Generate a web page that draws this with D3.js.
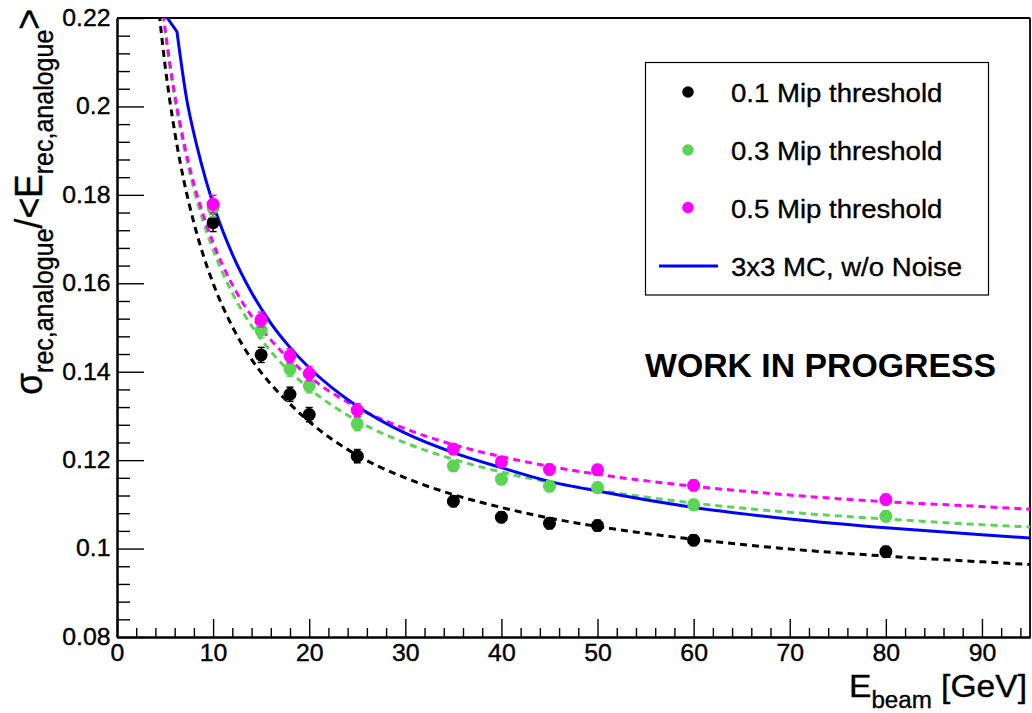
<!DOCTYPE html>
<html>
<head>
<meta charset="utf-8">
<script src="https://cdn.jsdelivr.net/npm/d3@7"></script>
<style>
  html, body { margin: 0; padding: 0; background: #fff; }
  svg { display: block; }
  text { font-family: "Liberation Sans", Arial, Helvetica, sans-serif; fill: #000; stroke: #000; stroke-width: 0.35px; }
  text.bold { stroke-width: 0; }
  .ticklab text { font-size: 23px; }
</style>
</head>
<body>
<script>
// Beam energies of the measured runs [GeV]
const energies = [10, 15, 18, 20, 25, 35, 40, 45, 50, 60, 80];

// Relative resolution sigma/<E> for the three MIP thresholds
const mip01 = [0.1737, 0.1438, 0.1349, 0.1303, 0.1209, 0.1107, 0.1071, 0.1057, 0.1052, 0.1019, 0.0993];
const mip03 = [0.1770, 0.1494, 0.1406, 0.1368, 0.1282, 0.1187, 0.1157, 0.1141, 0.1138, 0.1099, 0.1073];
const mip05 = [0.1779, 0.1518, 0.1436, 0.1396, 0.1313, 0.1225, 0.1196, 0.1179, 0.1178, 0.1143, 0.1111];
// Statistical uncertainties (same for the three thresholds)
const errors = [0.0020, 0.0017, 0.0016, 0.0016, 0.0015, 0.0012, 0.0012, 0.0012, 0.0012, 0.0012, 0.0012];

// Fitted resolution curves (dashed), sampled along the energy axis
const fitE  = [4.4, 5, 5.5, 6, 7, 8, 9, 10, 12, 14, 16, 18, 20, 25, 30, 35, 40, 45, 50, 60, 70, 80, 90, 95];
const fit01 = [0.2209, 0.2093, 0.2013, 0.1943, 0.1828, 0.1737, 0.1662, 0.1600, 0.1502, 0.1428, 0.1372, 0.1327, 0.1287, 0.1211, 0.1160, 0.1122, 0.1093, 0.1069, 0.1050, 0.1021, 0.0999, 0.0983, 0.0970, 0.0964];
const fit03 = [0.2289, 0.2173, 0.2091, 0.2021, 0.1905, 0.1813, 0.1738, 0.1676, 0.1578, 0.1504, 0.1446, 0.1400, 0.1362, 0.1289, 0.1239, 0.1202, 0.1173, 0.1150, 0.1132, 0.1103, 0.1082, 0.1067, 0.1054, 0.1049];
const fit05 = [0.2291, 0.2177, 0.2097, 0.2028, 0.1915, 0.1825, 0.1753, 0.1692, 0.1597, 0.1526, 0.1472, 0.1427, 0.1389, 0.1319, 0.1271, 0.1235, 0.1208, 0.1186, 0.1168, 0.1141, 0.1121, 0.1106, 0.1095, 0.1089];

// 3x3 Monte Carlo expectation without noise (solid blue)
const mcE = [5.24, 6.24, 7.24, 8.24, 9.24, 10.24, 12, 14, 16, 18, 20, 25, 30, 35, 40, 45, 50, 60, 70, 80, 90, 95];
const mc  = [0.2200, 0.2169, 0.2018, 0.1917, 0.1834, 0.1764, 0.1666, 0.1579, 0.1510, 0.1455, 0.1409, 0.1322, 0.1261, 0.1217, 0.1183, 0.1152, 0.1130, 0.1093, 0.1067, 0.1047, 0.1031, 0.1024];

// Axis ticks
const xMajor = [0, 10, 20, 30, 40, 50, 60, 70, 80, 90];
const yMajor = [0.08, 0.10, 0.12, 0.14, 0.16, 0.18, 0.20, 0.22];
const yLabels = ["0.08", "0.1", "0.12", "0.14", "0.16", "0.18", "0.2", "0.22"];

const legendLabels = ["0.1 Mip threshold", "0.3 Mip threshold", "0.5 Mip threshold", "3x3 MC, w/o Noise"];

const BLACK = "#000000", GREEN = "#59d454", MAGENTA = "#ff00ff", BLUE = "#0000ff";

const W = 1032, H = 713;
const L = 117, R = 1030, T = 18, B = 637;

const x = d3.scaleLinear().domain([0, 95]).range([L, R]);
const y = d3.scaleLinear().domain([0.08, 0.22]).range([B, T]);

const svg = d3.select("body").append("svg").attr("width", W).attr("height", H);
svg.append("rect").attr("width", W).attr("height", H).attr("fill", "#fff");

svg.append("defs").append("clipPath").attr("id", "plotClip")
  .append("rect").attr("x", L).attr("y", T).attr("width", R - L).attr("height", B - T);

// ---- axes ----
const xMinorAxis = d3.axisBottom(x).tickValues(d3.range(0, 96, 2).filter(v => v % 10 !== 0))
  .tickSizeInner(-9).tickSizeOuter(0).tickFormat("");
const xMajorAxis = d3.axisBottom(x).tickValues(xMajor)
  .tickSizeInner(-18).tickSizeOuter(0).tickPadding(8).tickFormat(d3.format("d"));

const gxMinor = svg.append("g").attr("transform", `translate(0,${B})`).call(xMinorAxis);
const gx = svg.append("g").attr("class", "ticklab").attr("transform", `translate(0,${B})`).call(xMajorAxis);

const yMinorVals = d3.range(0, 36).map(i => +(0.08 + i * 0.004).toFixed(3)).filter(v => Math.round(v * 1000) % 20 !== 0);
const yMinorAxis = d3.axisLeft(y).tickValues(yMinorVals).tickSizeInner(-13).tickSizeOuter(0).tickFormat("");
const yMajorAxis = d3.axisLeft(y).tickValues(yMajor).tickSizeInner(-27).tickSizeOuter(0).tickPadding(6)
  .tickFormat((d, i) => yLabels[i]);

const gyMinor = svg.append("g").attr("transform", `translate(${L},0)`).call(yMinorAxis);
const gy = svg.append("g").attr("class", "ticklab").attr("transform", `translate(${L},0)`).call(yMajorAxis);

[gxMinor, gx, gyMinor, gy].forEach(g => {
  g.selectAll(".tick line").attr("stroke", "#000").attr("stroke-width", 1.4);
  g.select(".domain").attr("stroke", "#000").attr("stroke-width", 2);
});
gx.selectAll(".tick text").attr("fill", "#000").attr("transform", "scale(1.08,1)");
gy.selectAll(".tick text").attr("fill", "#000").attr("transform", "scale(1.08,1)");

// frame: top and right edges
svg.append("line").attr("x1", L).attr("x2", R).attr("y1", T).attr("y2", T)
  .attr("stroke", "#000").attr("stroke-width", 1.8);
svg.append("line").attr("x1", R).attr("x2", R).attr("y1", T).attr("y2", B)
  .attr("stroke", "#000").attr("stroke-width", 1.8);

// ---- curves ----
const plot = svg.append("g").attr("clip-path", "url(#plotClip)");
const line = d3.line().x(d => x(d[0])).y(d => y(d[1])).curve(d3.curveMonotoneX);
const straight = d3.line().x(d => x(d[0])).y(d => y(d[1]));

const fitSeries = [
  { vals: fit01, color: BLACK },
  { vals: fit03, color: GREEN },
  { vals: fit05, color: MAGENTA }
];
fitSeries.forEach(s => {
  plot.append("path")
    .attr("d", line(fitE.map((e, i) => [e, s.vals[i]])))
    .attr("fill", "none").attr("stroke", s.color)
    .attr("stroke-width", 3).attr("stroke-dasharray", "7,5");
});

// MC curve: the first piece, clipped at the top of the frame, is a straight segment
const mcPts = mcE.map((e, i) => [e, mc[i]]);
plot.append("path")
  .attr("d", straight(mcPts.slice(0, 2)) + line(mcPts.slice(1)).replace(/^M/, "L"))
  .attr("fill", "none").attr("stroke", BLUE).attr("stroke-width", 3)
  .attr("stroke-linejoin", "miter");

// ---- data points with error bars ----
const pointSeries = [
  { vals: mip01, color: BLACK },
  { vals: mip03, color: GREEN },
  { vals: mip05, color: MAGENTA }
];
pointSeries.forEach(s => {
  const g = plot.append("g");
  energies.forEach((e, i) => {
    const cx = x(e), v = s.vals[i], err = errors[i];
    const y0 = y(v - err), y1 = y(v + err);
    g.append("line").attr("x1", cx).attr("x2", cx).attr("y1", y0).attr("y2", y1)
      .attr("stroke", s.color).attr("stroke-width", 1.5);
    [y0, y1].forEach(yy => g.append("line").attr("x1", cx - 3.5).attr("x2", cx + 3.5)
      .attr("y1", yy).attr("y2", yy).attr("stroke", s.color).attr("stroke-width", 1.5));
  });
  g.selectAll("circle").data(energies).join("circle")
    .attr("cx", d => x(d)).attr("cy", (d, i) => y(s.vals[i])).attr("r", 6.5)
    .attr("fill", s.color);
});

// ---- legend ----
const lg = svg.append("g");
lg.append("rect").attr("x", 645.5).attr("y", 62.5).attr("width", 343).attr("height", 232.5)
  .attr("fill", "#fff").attr("stroke", "#000").attr("stroke-width", 1.2);
const legendColors = [BLACK, GREEN, MAGENTA, BLUE];
const rowY = [92, 150, 207.5, 266];
legendLabels.forEach((lab, i) => {
  if (i < 3) {
    lg.append("circle").attr("cx", 688).attr("cy", rowY[i]).attr("r", 5.8).attr("fill", legendColors[i]);
  } else {
    lg.append("line").attr("x1", 659).attr("x2", 718).attr("y1", rowY[i]).attr("y2", rowY[i])
      .attr("stroke", BLUE).attr("stroke-width", 3);
  }
  lg.append("text").attr("transform", `translate(731,${rowY[i] + 10}) scale(1.06,1)`)
    .attr("font-size", 26).text(lab);
});

// ---- annotation ----
svg.append("text").attr("class", "bold").attr("transform", "translate(645,376.5) scale(1.04,1)")
  .attr("font-size", 32.5).attr("font-weight", "bold").text("WORK IN PROGRESS");

// ---- axis titles ----
const xt = svg.append("text").attr("transform", "translate(1027,697) scale(1.05,1)")
  .attr("text-anchor", "end").attr("font-size", 32);
xt.append("tspan").text("E");
xt.append("tspan").attr("font-size", 23).attr("dy", 11).text("beam");
xt.append("tspan").attr("dy", -11).text(" [GeV]");

const yt = svg.append("text").attr("transform", "translate(42,9) scale(1.1,1) rotate(-90)")
  .attr("text-anchor", "end").attr("font-size", 35.5);
yt.append("tspan").text("σ");
yt.append("tspan").attr("font-size", 25).attr("dy", 10).text("rec,analogue");
yt.append("tspan").attr("dy", -10).text("/<E");
yt.append("tspan").attr("font-size", 25).attr("dy", 10).text("rec,analogue");
yt.append("tspan").attr("dy", -10).text(">");
</script>
</body>
</html>
